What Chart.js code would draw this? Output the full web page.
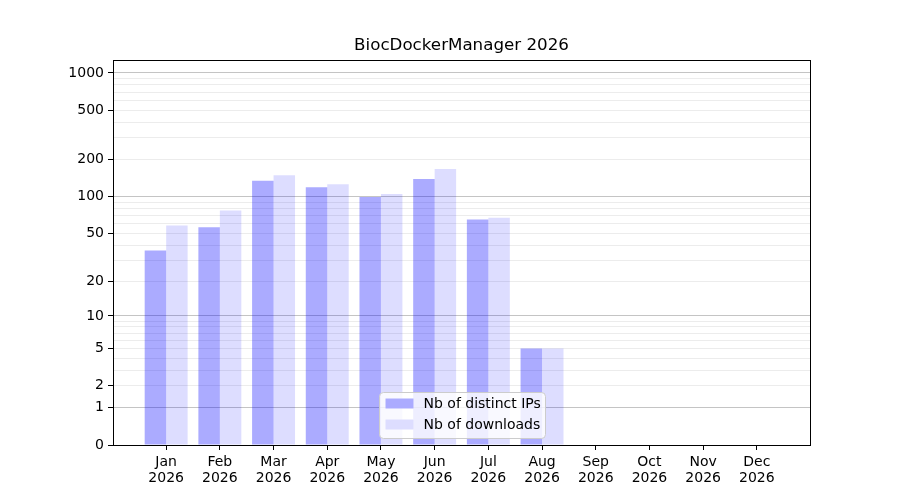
<!DOCTYPE html>
<html lang="en">
<head>
  <meta charset="UTF-8">
  <title>BiocDockerManager 2026</title>
  <style>
    body { margin: 0; background: #fff; }
  </style>
</head>
<body>
  <canvas id="statsChart" width="900" height="500"></canvas>
  <script src="https://cdn.jsdelivr.net/npm/chart.js"></script>
  <script>
    const months = ['Jan', 'Feb', 'Mar', 'Apr', 'May', 'Jun', 'Jul', 'Aug', 'Sep', 'Oct', 'Nov', 'Dec']
    const year = '2026'
    const distinctIPs = [36, 56, 134, 119, 99, 139, 65, 5, 0, 0, 0, 0]
    const downloads = [58, 77, 149, 126, 105, 167, 67, 5, 0, 0, 0, 0]
    const labeledTicks = [0, 1, 2, 5, 10, 20, 50, 100, 200, 500, 1000]
    const yTop = 1272

    // symlog-ish axis: plot log10(1 + v)
    const tr = v => Math.log10(1 + v)

    // every gridline position: 1..9, 10..90, 100..900, 1000
    const gridValues = [0]
    for (let d = 1; d <= 100; d *= 10) {
        for (let k = 1; k <= 9; k++) gridValues.push(k * d)
    }
    gridValues.push(1000)

    function valueOf(t) {
        return Math.round(Math.pow(10, t) - 1)
    }

    const FONT = "'DejaVu Sans', sans-serif"

    // draw the box around the plot and the legend in the lower middle
    const framePlugin = {
        id: 'frameAndLegend',
        afterDraw(chart) {
            const ctx = chart.ctx
            const a = chart.chartArea
            ctx.save()
            ctx.strokeStyle = '#000'
            ctx.lineWidth = 1
            ctx.strokeRect(Math.round(a.left) + 0.5, Math.round(a.top) + 0.5,
                Math.round(a.right - a.left), Math.round(a.bottom - a.top))

            const w = 166, h = 46
            const x = Math.round((a.left + a.right) / 2 - w / 2) + 0.5
            const y = Math.round(a.bottom - 7 - h) + 0.5
            ctx.beginPath()
            ctx.roundRect(x, y, w, h, 4)
            ctx.fillStyle = 'rgba(255,255,255,0.8)'
            ctx.fill()
            ctx.strokeStyle = '#cccccc'
            ctx.stroke()

            ctx.font = '14px ' + FONT
            ctx.textBaseline = 'middle'
            chart.data.datasets.forEach((ds, i) => {
                const cy = y + 11 + i * 21
                ctx.fillStyle = '#fff'
                ctx.fillRect(x + 6, cy - 5, 28, 10)
                ctx.fillStyle = ds.backgroundColor
                ctx.fillRect(x + 6, cy - 5, 28, 10)
                ctx.fillStyle = '#000'
                ctx.fillText(ds.label, x + 44, cy + 1)
            })
            ctx.restore()
        }
    }

    const ctx = document.getElementById('statsChart')

    new Chart(ctx, {
        type: 'bar',
        data: {
            datasets: [{
                label: 'Nb of distinct IPs',
                data: distinctIPs.map((v, i) => ({ x: i, y: tr(v) })),
                backgroundColor: 'rgba(0, 0, 255, 0.33)',
                borderWidth: 0
            }, {
                label: 'Nb of downloads',
                data: downloads.map((v, i) => ({ x: i, y: tr(v) })),
                backgroundColor: 'rgba(0, 0, 255, 0.135)',
                borderWidth: 0
            }]
        },
        options: {
            responsive: false,
            animation: false,
            devicePixelRatio: 1,
            categoryPercentage: 0.8,
            barPercentage: 1.0,
            layout: { padding: { left: 0, right: 90, top: 0, bottom: 0 } },
            plugins: {
                legend: { display: false },
                tooltip: { enabled: false },
                title: {
                    display: true,
                    fullSize: false,
                    text: 'BiocDockerManager ' + year,
                    color: '#000',
                    font: { family: FONT, size: 16.7, weight: 'normal', lineHeight: 1.2 },
                    padding: { top: 36, bottom: 4 }
                }
            },
            scales: {
                x: {
                    type: 'linear',
                    offset: false,
                    min: -0.99,
                    max: 11.99,
                    afterBuildTicks: scale => {
                        scale.ticks = months.map((m, i) => ({ value: i }))
                    },
                    afterFit: scale => { scale.height = 55 },
                    ticks: {
                        autoSkip: false,
                        maxRotation: 0,
                        color: '#000',
                        padding: 4,
                        font: { family: FONT, size: 14, lineHeight: 1.15 },
                        callback: v => [months[v], year]
                    },
                    grid: {
                        offset: false,
                        drawOnChartArea: false,
                        tickLength: 5,
                        tickColor: '#000'
                    },
                    border: { display: true, color: '#000' }
                },
                y: {
                    type: 'linear',
                    min: 0,
                    max: tr(yTop),
                    afterBuildTicks: scale => {
                        scale.ticks = gridValues.map(v => ({ value: tr(v) }))
                    },
                    afterFit: scale => { scale.width = 113 },
                    ticks: {
                        autoSkip: false,
                        color: '#000',
                        padding: 4,
                        font: { family: FONT, size: 14 },
                        callback: t => {
                            const v = valueOf(t)
                            return labeledTicks.includes(v) ? String(v) : ''
                        }
                    },
                    grid: {
                        tickLength: 5,
                        color: c => {
                            const v = valueOf(c.tick.value)
                            if (v === 0) return 'rgba(0,0,0,0)'
                            return [1, 10, 100, 1000].includes(v) ? '#c4c4c4' : '#ececec'
                        },
                        tickColor: c => labeledTicks.includes(valueOf(c.tick.value)) ? '#000' : 'rgba(0,0,0,0)'
                    },
                    border: { display: true, color: '#000' }
                }
            }
        },
        plugins: [framePlugin]
    })
  </script>
</body>
</html>
